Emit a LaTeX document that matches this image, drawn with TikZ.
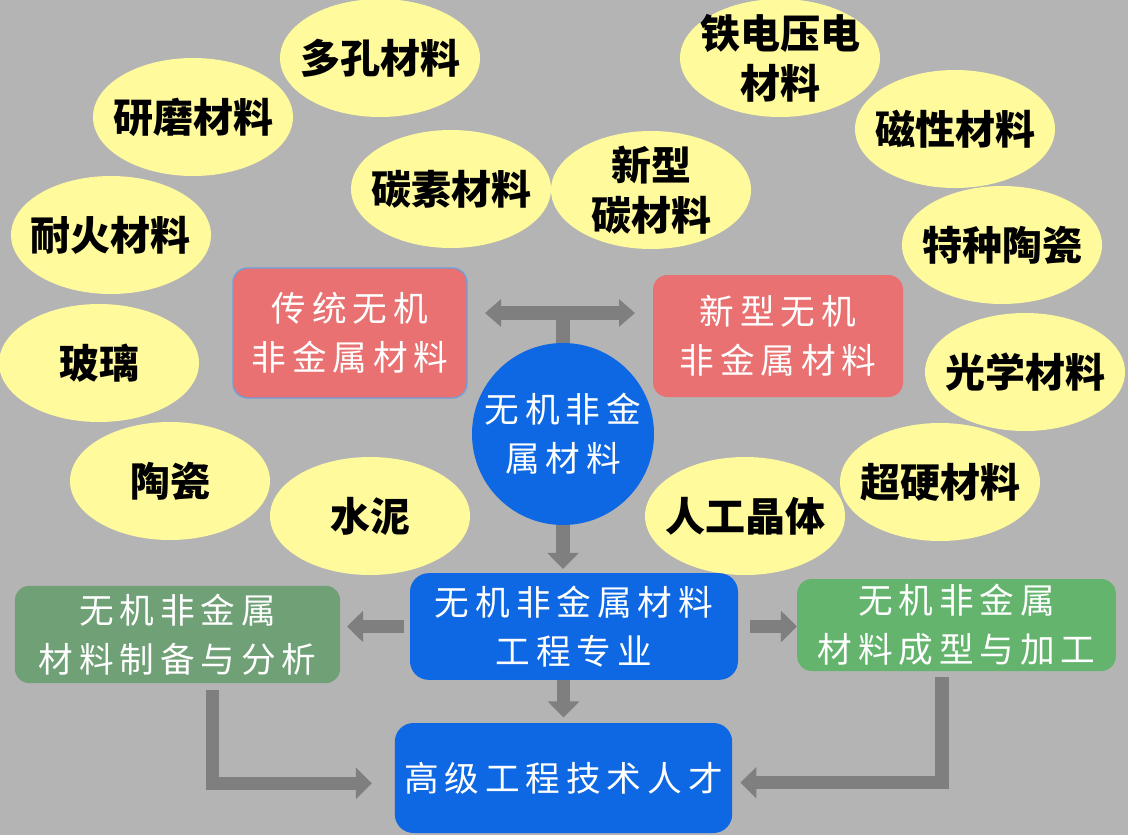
\documentclass[tikz,border=0pt]{standalone}
\usepackage{fontspec}
\setmainfont{Noto Sans CJK SC}
\newfontfamily\boxfont[LetterSpace=17]{Noto Sans CJK SC}
\usetikzlibrary{shapes.geometric,arrows.meta}
\definecolor{bggray}{HTML}{B4B4B4}
\definecolor{matyellow}{HTML}{FFFA9C}
\definecolor{kindred}{HTML}{E97171}
\definecolor{trimblue}{HTML}{6FA0DC}
\definecolor{deepblue}{HTML}{0E68E3}
\definecolor{dullgreen}{HTML}{6FA076}
\definecolor{brightgreen}{HTML}{64B46E}
\definecolor{arrowgray}{HTML}{7F7F7F}
\begin{document}
\begin{tikzpicture}[x=0.75pt,y=0.75pt,yscale=-1,xscale=1,
  mat/.style={ellipse,fill=matyellow,inner xsep=-20pt,inner ysep=-6pt,minimum width=150pt,minimum height=88.5pt,align=center,font=\fontsize{30}{37.5}\selectfont\bfseries},
  card/.style={rounded corners=11pt,inner sep=0pt,text=white,align=center,font=\boxfont\fontsize{26}{37}\selectfont},
  kind/.style={card,fill=kindred},
  bluecard/.style={card,fill=deepblue,rounded corners=14pt},
  fat/.style={draw=arrowgray,line width=10pt},
  fatarrow/.style={fat,-{Triangle[length=12pt,width=23pt]}},
  fatboth/.style={fat,{Triangle[length=12pt,width=20pt]}-{Triangle[length=12pt,width=20pt]}}]
\useasboundingbox (0,0) rectangle (1128,835);
\fill[bggray] (0,0) rectangle (1128,835);
\node[mat] (porous) at (380,58) {多孔材料};
\node[mat] (abrasive) at (193,117) {研磨材料};
\node[mat] (refractory) at (111,235) {耐火材料};
\node[mat] (glass) at (99,363) {玻璃};
\node[mat] (ceramic) at (170,481) {陶瓷};
\node[mat] (cement) at (370,516) {水泥};
\node[mat] (carbon) at (451,189) {碳素材料};
\node[mat] (newcarbon) at (651,190) {新型\\碳材料};
\node[mat] (ferro) at (780,58) {铁电压电\\材料};
\node[mat] (magnetic) at (955,129) {磁性材料};
\node[mat] (special) at (1002,245) {特种陶瓷};
\node[mat] (optical) at (1025,372) {光学材料};
\node[mat] (superhard) at (940,482) {超硬材料};
\node[mat] (crystal) at (745,516) {人工晶体};
\node[kind,draw=trimblue,line width=1pt,minimum width=175.5pt,minimum height=97.5pt] (trad) at (350,333) {传统无机\\非金属材料};
\node[kind,minimum width=187.5pt,minimum height=91.5pt] (newm) at (778,336) {新型无机\\非金属材料};
\node[card,circle,fill=deepblue,inner sep=-5pt,minimum size=136.5pt] (core) at (563,434) {无机非金\\属材料};
\node[bluecard,minimum width=246pt,minimum height=80pt] (major) at (574,626.5) {无机非金属材料\\工程专业};
\node[bluecard,minimum width=253pt,minimum height=82.5pt] (talent) at (563.5,778) {高级工程技术人才};
\node[card,fill=dullgreen,minimum width=244pt,minimum height=73pt] (prep) at (177.5,634.5) {无机非金属\\材料制备与分析};
\node[card,fill=brightgreen,minimum width=239pt,minimum height=69pt] (form) at (956.5,625) {无机非金属\\材料成型与加工};
\coordinate (tl) at (485,313);
\coordinate (tr) at (635,313);
\coordinate (tj) at (563,313);
\draw[fat] (core.north) -- (tj);
\draw[fatboth] (tl) -- (tr);
\draw[fatarrow,shorten >=3pt] (core.south) -- (core.south |- major.north);
\draw[fatarrow,shorten >=4pt] (talent.north |- major.south) -- (talent.north);
\draw[fatarrow,shorten <=4pt,shorten >=5pt] (major.west) -- (prep.east |- major.west);
\draw[fatarrow,shorten <=9pt] (major.east) -- (form.west |- major.east);
\draw[fatarrow,shorten <=5pt,shorten >=17pt] ([xshift=26pt]prep.south) |- ([yshift=4pt]talent.west);
\draw[fatarrow,shorten <=4.5pt,shorten >=6pt] ([xshift=-11pt]form.south) |- ([yshift=3.5pt]talent.east);
\end{tikzpicture}
\end{document}
